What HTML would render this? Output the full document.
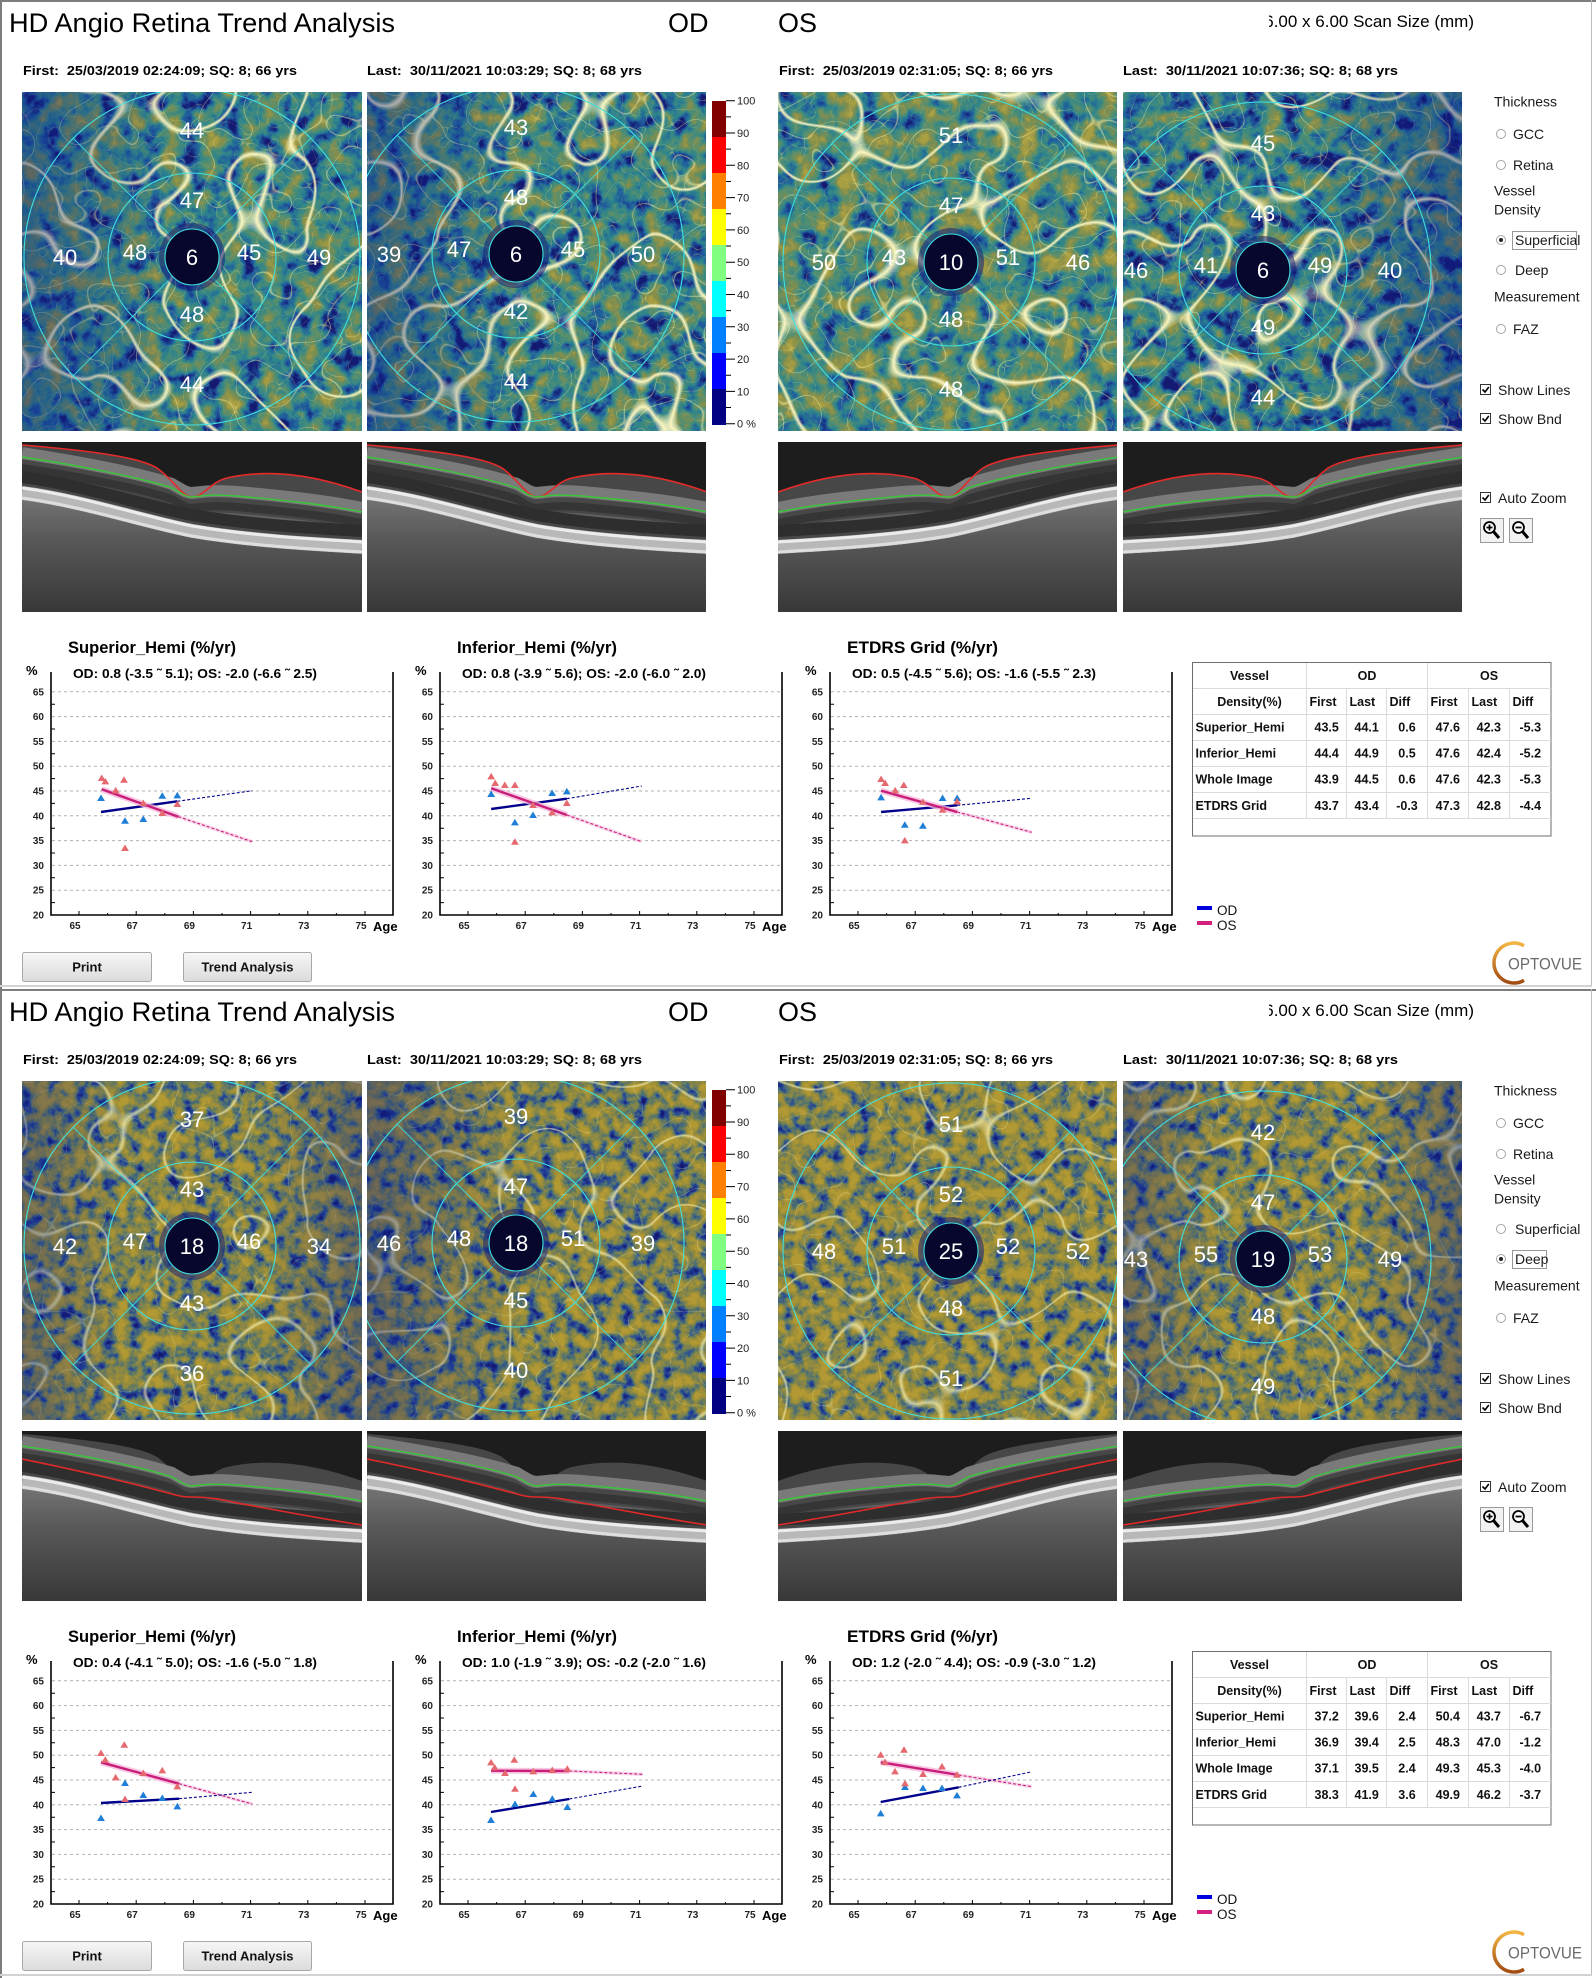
<!DOCTYPE html>
<html><head><meta charset="utf-8"><title>HD Angio Retina Trend Analysis</title>
<style>
html,body{margin:0;padding:0;background:#fff;}
body{width:1596px;height:1978px;position:relative;overflow:hidden;font-family:"Liberation Sans",Arial,sans-serif;}
svg.p{position:absolute;left:0;}
text{font-family:"Liberation Sans",Arial,sans-serif;}
.ods{stroke:#00008b;stroke-width:2.4;fill:none}
.odd{stroke:#00008b;stroke-width:1.1;stroke-dasharray:3 2;fill:none}
.osg{stroke:#f7b6da;stroke-width:6;opacity:.75;fill:none}
.oss{stroke:#c81e7a;stroke-width:2.4;fill:none}
.osd{stroke:#c81e7a;stroke-width:1.1;stroke-dasharray:3 2;fill:none}
.osdg{stroke:#f7c6e2;stroke-width:3.5;opacity:.7;fill:none}
.n text{fill:#fff;font-size:22px;text-anchor:middle}
.rp{font-size:14px;fill:#1a1a1a}
.tv text{font-size:12.5px;font-weight:bold;fill:#111;text-anchor:middle}
.st{font-size:13px;font-weight:bold;fill:#000}
</style></head><body>

<svg class="p" style="top:0" width="1596" height="989" viewBox="0 0 1596 989">
<defs>
<!-- superficial textures -->
<filter id="t1" x="0" y="0" width="1" height="1" color-interpolation-filters="sRGB">
<feTurbulence type="fractalNoise" baseFrequency="0.05" numOctaves="4" seed="4"/>
<feColorMatrix type="matrix" values="0 0 0 1.7 -0.40 0 0 0 1.7 -0.40 0 0 0 1.7 -0.40 0 0 0 0 1"/>
<feComponentTransfer result="c"><feFuncR type="table" tableValues="0.08 0.12 0.18 0.33 0.52 0.66"/><feFuncG type="table" tableValues="0.10 0.35 0.52 0.56 0.56 0.62"/><feFuncB type="table" tableValues="0.45 0.62 0.55 0.44 0.30 0.26"/></feComponentTransfer>
<feTurbulence type="turbulence" baseFrequency="0.055" numOctaves="1" seed="14"/>
<feColorMatrix type="matrix" values="0 0 0 0 0.9 0 0 0 0 0.86 0 0 0 0 0.5 0 0 0 -30 0.5" result="v2"/>
<feTurbulence type="turbulence" baseFrequency="0.026" numOctaves="1" seed="34"/>
<feColorMatrix type="matrix" values="0 0 0 0 0.95 0 0 0 0 0.92 0 0 0 0 0.62 0 0 0 -34 0.6" result="v3"/>
<feTurbulence type="turbulence" baseFrequency="0.014" numOctaves="1" seed="24"/>
<feColorMatrix type="matrix" values="0 0 0 0 0.98 0 0 0 0 0.96 0 0 0 0 0.75 0 0 0 -26 1" result="v1"/>
<feMerge><feMergeNode in="c"/><feMergeNode in="v2"/><feMergeNode in="v3"/><feMergeNode in="v1"/></feMerge>
</filter>
<filter id="t2" x="0" y="0" width="1" height="1" color-interpolation-filters="sRGB">
<feTurbulence type="fractalNoise" baseFrequency="0.05" numOctaves="4" seed="7"/>
<feColorMatrix type="matrix" values="0 0 0 1.7 -0.40 0 0 0 1.7 -0.40 0 0 0 1.7 -0.40 0 0 0 0 1"/>
<feComponentTransfer result="c"><feFuncR type="table" tableValues="0.08 0.12 0.18 0.33 0.52 0.66"/><feFuncG type="table" tableValues="0.10 0.35 0.52 0.56 0.56 0.62"/><feFuncB type="table" tableValues="0.45 0.62 0.55 0.44 0.30 0.26"/></feComponentTransfer>
<feTurbulence type="turbulence" baseFrequency="0.055" numOctaves="1" seed="17"/>
<feColorMatrix type="matrix" values="0 0 0 0 0.9 0 0 0 0 0.86 0 0 0 0 0.5 0 0 0 -30 0.5" result="v2"/>
<feTurbulence type="turbulence" baseFrequency="0.026" numOctaves="1" seed="37"/>
<feColorMatrix type="matrix" values="0 0 0 0 0.95 0 0 0 0 0.92 0 0 0 0 0.62 0 0 0 -34 0.6" result="v3"/>
<feTurbulence type="turbulence" baseFrequency="0.014" numOctaves="1" seed="27"/>
<feColorMatrix type="matrix" values="0 0 0 0 0.98 0 0 0 0 0.96 0 0 0 0 0.75 0 0 0 -26 1" result="v1"/>
<feMerge><feMergeNode in="c"/><feMergeNode in="v2"/><feMergeNode in="v3"/><feMergeNode in="v1"/></feMerge>
</filter>
<filter id="t3" x="0" y="0" width="1" height="1" color-interpolation-filters="sRGB">
<feTurbulence type="fractalNoise" baseFrequency="0.05" numOctaves="4" seed="9"/>
<feColorMatrix type="matrix" values="0 0 0 1.7 -0.30 0 0 0 1.7 -0.30 0 0 0 1.7 -0.30 0 0 0 0 1"/>
<feComponentTransfer result="c"><feFuncR type="table" tableValues="0.08 0.12 0.18 0.33 0.52 0.66"/><feFuncG type="table" tableValues="0.10 0.35 0.52 0.56 0.56 0.62"/><feFuncB type="table" tableValues="0.45 0.62 0.55 0.44 0.30 0.26"/></feComponentTransfer>
<feTurbulence type="turbulence" baseFrequency="0.055" numOctaves="1" seed="19"/>
<feColorMatrix type="matrix" values="0 0 0 0 0.9 0 0 0 0 0.86 0 0 0 0 0.5 0 0 0 -30 0.5" result="v2"/>
<feTurbulence type="turbulence" baseFrequency="0.026" numOctaves="1" seed="39"/>
<feColorMatrix type="matrix" values="0 0 0 0 0.95 0 0 0 0 0.92 0 0 0 0 0.62 0 0 0 -34 0.6" result="v3"/>
<feTurbulence type="turbulence" baseFrequency="0.014" numOctaves="1" seed="29"/>
<feColorMatrix type="matrix" values="0 0 0 0 0.98 0 0 0 0 0.96 0 0 0 0 0.75 0 0 0 -26 1" result="v1"/>
<feMerge><feMergeNode in="c"/><feMergeNode in="v2"/><feMergeNode in="v3"/><feMergeNode in="v1"/></feMerge>
</filter>
<filter id="t4" x="0" y="0" width="1" height="1" color-interpolation-filters="sRGB">
<feTurbulence type="fractalNoise" baseFrequency="0.05" numOctaves="4" seed="12"/>
<feColorMatrix type="matrix" values="0 0 0 1.7 -0.43 0 0 0 1.7 -0.43 0 0 0 1.7 -0.43 0 0 0 0 1"/>
<feComponentTransfer result="c"><feFuncR type="table" tableValues="0.08 0.12 0.18 0.33 0.52 0.66"/><feFuncG type="table" tableValues="0.10 0.35 0.52 0.56 0.56 0.62"/><feFuncB type="table" tableValues="0.45 0.62 0.55 0.44 0.30 0.26"/></feComponentTransfer>
<feTurbulence type="turbulence" baseFrequency="0.055" numOctaves="1" seed="21"/>
<feColorMatrix type="matrix" values="0 0 0 0 0.9 0 0 0 0 0.86 0 0 0 0 0.5 0 0 0 -30 0.5" result="v2"/>
<feTurbulence type="turbulence" baseFrequency="0.026" numOctaves="1" seed="41"/>
<feColorMatrix type="matrix" values="0 0 0 0 0.95 0 0 0 0 0.92 0 0 0 0 0.62 0 0 0 -34 0.6" result="v3"/>
<feTurbulence type="turbulence" baseFrequency="0.014" numOctaves="1" seed="31"/>
<feColorMatrix type="matrix" values="0 0 0 0 0.98 0 0 0 0 0.96 0 0 0 0 0.75 0 0 0 -26 1" result="v1"/>
<feMerge><feMergeNode in="c"/><feMergeNode in="v2"/><feMergeNode in="v3"/><feMergeNode in="v1"/></feMerge>
</filter>
<!-- deep textures -->
<filter id="d1" x="0" y="0" width="1" height="1" color-interpolation-filters="sRGB">
<feTurbulence type="fractalNoise" baseFrequency="0.075" numOctaves="4" seed="33"/>
<feColorMatrix type="matrix" values="0 0 0 1.9 -0.35 0 0 0 1.9 -0.35 0 0 0 1.9 -0.35 0 0 0 0 1"/>
<feComponentTransfer result="c"><feFuncR type="table" tableValues="0.08 0.14 0.30 0.50 0.62 0.70"/><feFuncG type="table" tableValues="0.10 0.26 0.44 0.52 0.56 0.60"/><feFuncB type="table" tableValues="0.45 0.60 0.45 0.30 0.22 0.20"/></feComponentTransfer>
<feTurbulence type="turbulence" baseFrequency="0.026" numOctaves="1" seed="43"/>
<feColorMatrix type="matrix" values="0 0 0 0 0.93 0 0 0 0 0.9 0 0 0 0 0.6 0 0 0 -34 0.4" result="v3"/>
<feTurbulence type="turbulence" baseFrequency="0.014" numOctaves="1" seed="53"/>
<feColorMatrix type="matrix" values="0 0 0 0 0.97 0 0 0 0 0.95 0 0 0 0 0.72 0 0 0 -26 0.7" result="v1"/>
<feMerge><feMergeNode in="c"/><feMergeNode in="v3"/><feMergeNode in="v1"/></feMerge>
</filter>
<filter id="d2" x="0" y="0" width="1" height="1" color-interpolation-filters="sRGB">
<feTurbulence type="fractalNoise" baseFrequency="0.075" numOctaves="4" seed="35"/>
<feColorMatrix type="matrix" values="0 0 0 1.9 -0.35 0 0 0 1.9 -0.35 0 0 0 1.9 -0.35 0 0 0 0 1"/>
<feComponentTransfer result="c"><feFuncR type="table" tableValues="0.08 0.14 0.30 0.50 0.62 0.70"/><feFuncG type="table" tableValues="0.10 0.26 0.44 0.52 0.56 0.60"/><feFuncB type="table" tableValues="0.45 0.60 0.45 0.30 0.22 0.20"/></feComponentTransfer>
<feTurbulence type="turbulence" baseFrequency="0.026" numOctaves="1" seed="45"/>
<feColorMatrix type="matrix" values="0 0 0 0 0.93 0 0 0 0 0.9 0 0 0 0 0.6 0 0 0 -34 0.4" result="v3"/>
<feTurbulence type="turbulence" baseFrequency="0.014" numOctaves="1" seed="55"/>
<feColorMatrix type="matrix" values="0 0 0 0 0.97 0 0 0 0 0.95 0 0 0 0 0.72 0 0 0 -26 0.7" result="v1"/>
<feMerge><feMergeNode in="c"/><feMergeNode in="v3"/><feMergeNode in="v1"/></feMerge>
</filter>
<filter id="d3" x="0" y="0" width="1" height="1" color-interpolation-filters="sRGB">
<feTurbulence type="fractalNoise" baseFrequency="0.075" numOctaves="4" seed="37"/>
<feColorMatrix type="matrix" values="0 0 0 1.9 -0.30 0 0 0 1.9 -0.30 0 0 0 1.9 -0.30 0 0 0 0 1"/>
<feComponentTransfer result="c"><feFuncR type="table" tableValues="0.08 0.14 0.30 0.50 0.62 0.70"/><feFuncG type="table" tableValues="0.10 0.26 0.44 0.52 0.56 0.60"/><feFuncB type="table" tableValues="0.45 0.60 0.45 0.30 0.22 0.20"/></feComponentTransfer>
<feTurbulence type="turbulence" baseFrequency="0.026" numOctaves="1" seed="47"/>
<feColorMatrix type="matrix" values="0 0 0 0 0.93 0 0 0 0 0.9 0 0 0 0 0.6 0 0 0 -34 0.4" result="v3"/>
<feTurbulence type="turbulence" baseFrequency="0.014" numOctaves="1" seed="57"/>
<feColorMatrix type="matrix" values="0 0 0 0 0.97 0 0 0 0 0.95 0 0 0 0 0.72 0 0 0 -26 0.7" result="v1"/>
<feMerge><feMergeNode in="c"/><feMergeNode in="v3"/><feMergeNode in="v1"/></feMerge>
</filter>
<filter id="d4" x="0" y="0" width="1" height="1" color-interpolation-filters="sRGB">
<feTurbulence type="fractalNoise" baseFrequency="0.075" numOctaves="4" seed="39"/>
<feColorMatrix type="matrix" values="0 0 0 1.9 -0.33 0 0 0 1.9 -0.33 0 0 0 1.9 -0.33 0 0 0 0 1"/>
<feComponentTransfer result="c"><feFuncR type="table" tableValues="0.08 0.14 0.30 0.50 0.62 0.70"/><feFuncG type="table" tableValues="0.10 0.26 0.44 0.52 0.56 0.60"/><feFuncB type="table" tableValues="0.45 0.60 0.45 0.30 0.22 0.20"/></feComponentTransfer>
<feTurbulence type="turbulence" baseFrequency="0.026" numOctaves="1" seed="49"/>
<feColorMatrix type="matrix" values="0 0 0 0 0.93 0 0 0 0 0.9 0 0 0 0 0.6 0 0 0 -34 0.4" result="v3"/>
<feTurbulence type="turbulence" baseFrequency="0.014" numOctaves="1" seed="59"/>
<feColorMatrix type="matrix" values="0 0 0 0 0.97 0 0 0 0 0.95 0 0 0 0 0.72 0 0 0 -26 0.7" result="v1"/>
<feMerge><feMergeNode in="c"/><feMergeNode in="v3"/><feMergeNode in="v1"/></feMerge>
</filter>

<linearGradient id="gL" x1="0" y1="0" x2="1" y2="0"><stop offset="0" stop-color="#0c1e86" stop-opacity=".4"/><stop offset=".45" stop-color="#0c1e86" stop-opacity="0"/></linearGradient>
<linearGradient id="gR" x1="0" y1="0" x2="1" y2="0"><stop offset=".55" stop-color="#0c1e86" stop-opacity="0"/><stop offset="1" stop-color="#0c1e86" stop-opacity=".4"/></linearGradient>
<linearGradient id="gE" x1="0" y1="0" x2="1" y2="0"><stop offset="0" stop-color="#0c1e86" stop-opacity=".35"/><stop offset=".3" stop-color="#0c1e86" stop-opacity="0"/><stop offset=".7" stop-color="#0c1e86" stop-opacity="0"/><stop offset="1" stop-color="#0c1e86" stop-opacity=".35"/></linearGradient>
<linearGradient id="gCh" x1="0" y1="0" x2="0" y2="1"><stop offset="0" stop-color="#727272"/><stop offset=".35" stop-color="#585858"/><stop offset="1" stop-color="#383838"/></linearGradient>
<linearGradient id="gBtn" x1="0" y1="0" x2="0" y2="1"><stop offset="0" stop-color="#f7f7f7"/><stop offset="1" stop-color="#dbdbdb"/></linearGradient>
<linearGradient id="gLogo" x1="0" y1="0" x2="0" y2="1"><stop offset="0" stop-color="#f2b443"/><stop offset="1" stop-color="#a24c12"/></linearGradient>

<path id="pILM" d="M0,3C60,8 115,14 135,26C152,38 160,55 170,55C182,55 188,40 205,36C240,28 285,30 340,50"/>
<path id="pIPL" d="M0,15C60,24 120,36 150,46C160,52 165,55 170,55C180,54 190,52 215,54C260,58 300,62 340,70"/>
<path id="pOPL" d="M0,28C60,40 120,55 150,63C160,66 165,66 170,66C185,66 200,68 215,72C260,80 300,88 340,94"/>
<path id="pRPE" d="M0,44C60,52 120,72 170,82C230,92 290,95 340,98"/>

<g id="bs">
<rect width="340" height="170" fill="#1d1d1d"/>
<path d="M0,3C60,8 115,14 135,26C152,38 160,55 170,55C182,55 188,40 205,36C240,28 285,30 340,50L340,170L0,170Z" fill="#474747"/>
<use href="#pIPL" y="-4" fill="none" stroke="#7a7a7a" stroke-width="12"/>
<use href="#pIPL" y="11" fill="none" stroke="#353535" stroke-width="8"/>
<use href="#pIPL" y="20" fill="none" stroke="#606060" stroke-width="5"/>
<use href="#pRPE" y="-9" fill="none" stroke="#2e2e2e" stroke-width="12"/>
<use href="#pRPE" y="7" fill="none" stroke="#b8b8b8" stroke-width="14"/>
<use href="#pRPE" y="2" fill="none" stroke="#ececec" stroke-width="3"/>
<use href="#pRPE" y="12" fill="none" stroke="#dedede" stroke-width="3"/>
<path d="M0,58C60,66 120,86 170,96C230,106 290,109 340,112L340,170L0,170Z" fill="url(#gCh)"/>
</g>
<g id="lt"><use href="#pILM" fill="none" stroke="#e52a2a" stroke-width="1.6"/><use href="#pIPL" fill="none" stroke="#38c838" stroke-width="1.4"/></g>
<g id="lb"><use href="#pIPL" fill="none" stroke="#38c838" stroke-width="1.4"/><use href="#pOPL" fill="none" stroke="#e02a2a" stroke-width="1.6"/></g>

<g id="et">
<circle r="168" fill="none" stroke="#3fe0e0" stroke-width="1.1"/>
<circle r="84" fill="none" stroke="#3fe0e0" stroke-width="1.1"/>
<path d="M20,-20L119,-119M-20,-20L-119,-119M20,20L119,119M-20,20L-119,119" stroke="#3fe0e0" stroke-width="1" opacity=".85"/>
<ellipse rx="33" ry="34" fill="#14207a" opacity=".55"/>
<ellipse rx="27" ry="28" fill="#07072e" stroke="#3fe0e0" stroke-width="1.1"/>
</g>

<path id="tp" d="M0,-3.8L3.9,2.7L-3.9,2.7Z" fill="#e46a70"/>
<path id="tb" d="M0,-3.8L3.9,2.7L-3.9,2.7Z" fill="#1f7fd6"/>

<g id="cf">
<path d="M52,691.8H392M52,716.6H392M52,741.4H392M52,766.2H392M52,791H392M52,815.8H392M52,840.6H392M52,865.4H392M52,890.2H392" stroke="#b0b0b0" stroke-width="1" stroke-dasharray="3 3" fill="none"/>
<path d="M51,704.2h4M51,729h4M51,753.8h4M51,778.6h4M51,803.4h4M51,828.2h4M51,853h4M51,877.8h4M51,902.6h4" stroke="#000" stroke-width="1"/>
<path d="M79,915v-4M136.2,915v-4M193.4,915v-4M250.6,915v-4M307.8,915v-4M365,915v-4M107.6,915v-2M164.8,915v-2M222,915v-2M279.2,915v-2M336.4,915v-2" stroke="#000" stroke-width="1"/>
<path d="M51,672V915H393V672" stroke="#000" stroke-width="1.6" fill="none"/>
<g font-size="10" font-weight="bold" fill="#222" text-anchor="end">
<text x="44" y="695.3">65</text><text x="44" y="720.1">60</text><text x="44" y="744.9">55</text><text x="44" y="769.7">50</text><text x="44" y="794.5">45</text><text x="44" y="819.3">40</text><text x="44" y="844.1">35</text><text x="44" y="868.9">30</text><text x="44" y="893.7">25</text><text x="44" y="918.5">20</text>
</g>
<g font-size="10" font-weight="bold" fill="#222" text-anchor="middle">
<text x="75" y="929">65</text><text x="132.2" y="929">67</text><text x="189.4" y="929">69</text><text x="246.6" y="929">71</text><text x="303.8" y="929">73</text><text x="361" y="929">75</text>
</g>
<text x="373" y="931" font-size="13" font-weight="bold">Age</text>
<text x="26" y="675" font-size="13" font-weight="bold">%</text>
</g>

<g id="common">
<rect x="0" y="0" width="1596" height="2" fill="#7d7d7d"/>
<rect x="0" y="0" width="2" height="989" fill="#7d7d7d"/>
<rect x="1591" y="0" width="1" height="987" fill="#bcbcbc"/>
<rect x="0" y="985" width="1592" height="2" fill="#d2d2d2"/>
<text x="9" y="32" font-size="27" fill="#000" textLength="386" lengthAdjust="spacingAndGlyphs">HD Angio Retina Trend Analysis</text>
<text x="668" y="32" font-size="27" fill="#000">OD</text>
<text x="778" y="32" font-size="27" fill="#000">OS</text>
<svg x="1269" y="0" width="220" height="40"><text x="205" y="27" font-size="17" text-anchor="end" fill="#000">6.00 x 6.00 Scan Size (mm)</text></svg>
<g font-size="13" font-weight="bold" fill="#000">
<text x="23" y="75" textLength="274" lengthAdjust="spacingAndGlyphs">First:&#160; 25/03/2019 02:24:09; SQ: 8; 66 yrs</text>
<text x="367" y="75" textLength="275" lengthAdjust="spacingAndGlyphs">Last:&#160; 30/11/2021 10:03:29; SQ: 8; 68 yrs</text>
<text x="779" y="75" textLength="274" lengthAdjust="spacingAndGlyphs">First:&#160; 25/03/2019 02:31:05; SQ: 8; 66 yrs</text>
<text x="1123" y="75" textLength="275" lengthAdjust="spacingAndGlyphs">Last:&#160; 30/11/2021 10:07:36; SQ: 8; 68 yrs</text>
</g>
<!-- colorbar -->
<rect x="712" y="101" width="14" height="36" fill="#800000"/>
<rect x="712" y="137" width="14" height="36" fill="#ff0000"/>
<rect x="712" y="173" width="14" height="36" fill="#ff8000"/>
<rect x="712" y="209" width="14" height="36" fill="#ffff00"/>
<rect x="712" y="245" width="14" height="36" fill="#80ff80"/>
<rect x="712" y="281" width="14" height="36" fill="#00ffff"/>
<rect x="712" y="317" width="14" height="36" fill="#0080ff"/>
<rect x="712" y="353" width="14" height="36" fill="#0000ff"/>
<rect x="712" y="389" width="14" height="36" fill="#000080"/>
<path d="M726,100.7h9M726,133h9M726,165.3h9M726,197.6h9M726,229.9h9M726,262.2h9M726,294.5h9M726,326.8h9M726,359.1h9M726,391.4h9M726,423.7h9M726,116.85h5M726,149.15h5M726,181.45h5M726,213.75h5M726,246.05h5M726,278.35h5M726,310.65h5M726,342.95h5M726,375.25h5M726,407.55h5" stroke="#000" stroke-width="1"/>
<g font-size="11" fill="#222">
<text x="737" y="104.7">100</text><text x="737" y="137">90</text><text x="737" y="169.3">80</text><text x="737" y="201.6">70</text><text x="737" y="233.9">60</text><text x="737" y="266.2">50</text><text x="737" y="298.5">40</text><text x="737" y="330.8">30</text><text x="737" y="363.1">20</text><text x="737" y="395.4">10</text><text x="737" y="427.7">0 %</text>
</g>
<!-- B-scan bases -->
<svg x="22" y="442" width="340" height="170"><use href="#bs"/></svg>
<svg x="367" y="442" width="339" height="170"><use href="#bs"/></svg>
<svg x="778" y="442" width="339" height="170"><use href="#bs" transform="matrix(-1 0 0 1 340 0)"/></svg>
<svg x="1123" y="442" width="339" height="170"><use href="#bs" transform="matrix(-1 0 0 1 340 0)"/></svg>
<!-- chart frames -->
<use href="#cf"/>
<use href="#cf" x="389"/>
<use href="#cf" x="779"/>
<g font-size="16.5" font-weight="bold" fill="#000">
<text x="68" y="653" textLength="168" lengthAdjust="spacingAndGlyphs">Superior_Hemi (%/yr)</text>
<text x="457" y="653" textLength="160" lengthAdjust="spacingAndGlyphs">Inferior_Hemi (%/yr)</text>
<text x="847" y="653" textLength="151" lengthAdjust="spacingAndGlyphs">ETDRS Grid (%/yr)</text>
</g>
<!-- right panel -->
<g class="rp">
<text x="1494" y="106.5">Thickness</text>
<text x="1513" y="139">GCC</text>
<text x="1513" y="170">Retina</text>
<text x="1494" y="195.5">Vessel</text>
<text x="1494" y="214.5">Density</text>
<text x="1515" y="245">Superficial</text>
<text x="1515" y="275">Deep</text>
<text x="1494" y="301.5">Measurement</text>
<text x="1513" y="334">FAZ</text>
<text x="1498" y="395">Show Lines</text>
<text x="1498" y="424">Show Bnd</text>
<text x="1498" y="503">Auto Zoom</text>
</g>
<g fill="#fff" stroke="#a5a5a5" stroke-width="1">
<circle cx="1501" cy="134" r="4.5"/><circle cx="1501" cy="165" r="4.5"/><circle cx="1501" cy="240" r="4.5"/><circle cx="1501" cy="270" r="4.5"/><circle cx="1501" cy="329" r="4.5"/>
</g>
<g fill="#fff" stroke="#333" stroke-width="1">
<rect x="1480.5" y="384.5" width="10" height="10"/><rect x="1480.5" y="413.5" width="10" height="10"/><rect x="1480.5" y="492.5" width="10" height="10"/>
</g>
<path d="M1482.5,389.5l2.5,2.5l3.8,-5M1482.5,418.5l2.5,2.5l3.8,-5M1482.5,497.5l2.5,2.5l3.8,-5" fill="none" stroke="#000" stroke-width="1.6"/>
<rect x="1480.5" y="518.5" width="23" height="24" fill="#f2f2f2" stroke="#9a9a9a"/>
<rect x="1509.5" y="518.5" width="23" height="24" fill="#f2f2f2" stroke="#9a9a9a"/>
<circle cx="1489.5" cy="527.5" r="5.5" fill="#fff" stroke="#000" stroke-width="1.8"/>
<path d="M1486.5,527.5h6M1489.5,524.5v6" stroke="#000" stroke-width="1.8"/>
<path d="M1493.5,531.5L1499,538" stroke="#000" stroke-width="3"/>
<circle cx="1518.5" cy="527.5" r="5.5" fill="#fff" stroke="#000" stroke-width="1.8"/>
<path d="M1515.5,527.5h6" stroke="#000" stroke-width="1.8"/>
<path d="M1522.5,531.5L1528,538" stroke="#000" stroke-width="3"/>
<!-- table skeleton -->
<rect x="1192.5" y="662.5" width="358.5" height="173.5" fill="#fff" stroke="#6e6e6e"/>
<path d="M1193,688.5H1551M1193,714.5H1551M1193,740.5H1551M1193,766.5H1551M1193,792.5H1551M1193,818.5H1551M1306.5,663V818.5M1427.5,663V818.5M1346.5,688.5V818.5M1386.5,688.5V818.5M1468.5,688.5V818.5M1509.5,688.5V818.5" stroke="#dadada" stroke-width="1"/>
<g font-size="12.5" font-weight="bold" fill="#111">
<text x="1249.5" y="679.8" text-anchor="middle">Vessel</text>
<text x="1367" y="679.8" text-anchor="middle">OD</text>
<text x="1489" y="679.8" text-anchor="middle">OS</text>
<text x="1249.5" y="705.8" text-anchor="middle">Density(%)</text>
<text x="1309.5" y="705.8">First</text><text x="1349.5" y="705.8">Last</text><text x="1389.5" y="705.8">Diff</text>
<text x="1430.5" y="705.8">First</text><text x="1471.5" y="705.8">Last</text><text x="1512.5" y="705.8">Diff</text>
<text x="1195.5" y="731.7">Superior_Hemi</text>
<text x="1195.5" y="757.7">Inferior_Hemi</text>
<text x="1195.5" y="783.7">Whole Image</text>
<text x="1195.5" y="809.8">ETDRS Grid</text>
</g>
<!-- legend -->
<rect x="1197" y="906" width="15" height="4" fill="#0000dd"/>
<text x="1217" y="915" font-size="13.5" fill="#111">OD</text>
<rect x="1197" y="921" width="15" height="4" fill="#d4207e"/>
<text x="1217" y="930" font-size="13.5" fill="#111">OS</text>
<!-- buttons -->
<rect x="22.5" y="952.5" width="129" height="29" rx="2" fill="url(#gBtn)" stroke="#a8a8a8"/>
<rect x="183.5" y="952.5" width="128" height="29" rx="2" fill="url(#gBtn)" stroke="#a8a8a8"/>
<text x="87" y="971.5" font-size="13" font-weight="bold" text-anchor="middle" fill="#111">Print</text>
<text x="247.5" y="971.5" font-size="13" font-weight="bold" text-anchor="middle" fill="#111">Trend Analysis</text>
<!-- logo -->
<path d="M1524,945.7A20,20 0 1,0 1524,980.3" fill="none" stroke="url(#gLogo)" stroke-width="3.5"/>
<text x="1508" y="969.5" font-size="17" fill="#6a6a6a" textLength="74" lengthAdjust="spacingAndGlyphs">OPTOVUE</text>
</g>
</defs>

<use href="#common"/>

<!-- angio images top -->
<svg x="22" y="92" width="340" height="339">
<rect width="340" height="339" filter="url(#t1)"/>
<rect width="340" height="339" fill="url(#gL)"/>
<use href="#et" x="170" y="165"/>
<g class="n"><text x="170" y="46">44</text><text x="170" y="116">47</text><text x="43" y="173">40</text><text x="113" y="168">48</text><text x="170" y="173">6</text><text x="227" y="168">45</text><text x="297" y="173">49</text><text x="170" y="230">48</text><text x="170" y="300">44</text></g>
</svg>
<svg x="367" y="92" width="339" height="339">
<rect width="339" height="339" filter="url(#t2)"/>
<rect width="339" height="339" fill="url(#gL)"/>
<use href="#et" x="149" y="162"/>
<g class="n"><text x="149" y="43">43</text><text x="149" y="113">48</text><text x="22" y="170">39</text><text x="92" y="165">47</text><text x="149" y="170">6</text><text x="206" y="165">45</text><text x="276" y="170">50</text><text x="149" y="227">42</text><text x="149" y="297">44</text></g>
</svg>
<svg x="778" y="92" width="339" height="339">
<rect width="339" height="339" filter="url(#t3)"/>
<use href="#et" x="173" y="170"/>
<g class="n"><text x="173" y="51">51</text><text x="173" y="121">47</text><text x="46" y="178">50</text><text x="116" y="173">43</text><text x="173" y="178">10</text><text x="230" y="173">51</text><text x="300" y="178">46</text><text x="173" y="235">48</text><text x="173" y="305">48</text></g>
</svg>
<svg x="1123" y="92" width="339" height="339">
<rect width="339" height="339" filter="url(#t4)"/>
<rect width="339" height="339" fill="url(#gR)"/>
<use href="#et" x="140" y="178"/>
<g class="n"><text x="140" y="59">45</text><text x="140" y="129">43</text><text x="13" y="186">46</text><text x="83" y="181">41</text><text x="140" y="186">6</text><text x="197" y="181">49</text><text x="267" y="186">40</text><text x="140" y="243">49</text><text x="140" y="313">44</text></g>
</svg>
<!-- b-scan lines -->
<svg x="22" y="442" width="340" height="170"><use href="#lt"/></svg>
<svg x="367" y="442" width="339" height="170"><use href="#lt"/></svg>
<svg x="778" y="442" width="339" height="170"><use href="#lt" transform="matrix(-1 0 0 1 340 0)"/></svg>
<svg x="1123" y="442" width="339" height="170"><use href="#lt" transform="matrix(-1 0 0 1 340 0)"/></svg>

<!-- radio selection -->
<circle cx="1501" cy="240" r="2" fill="#222"/>
<rect x="1512.5" y="231.5" width="64" height="18" fill="none" stroke="#333" stroke-dasharray="1 1"/>

<!-- subtitles -->
<text class="st" x="73" y="678" textLength="244" lengthAdjust="spacingAndGlyphs">OD: 0.8 (-3.5 ˜ 5.1); OS: -2.0 (-6.6 ˜ 2.5)</text>
<text class="st" x="462" y="678" textLength="244" lengthAdjust="spacingAndGlyphs">OD: 0.8 (-3.9 ˜ 5.6); OS: -2.0 (-6.0 ˜ 2.0)</text>
<text class="st" x="852" y="678" textLength="244" lengthAdjust="spacingAndGlyphs">OD: 0.5 (-4.5 ˜ 5.6); OS: -1.6 (-5.5 ˜ 2.3)</text>

<!-- series chart 1 -->
<g>
<line class="osdg" x1="178.3" y1="816.7" x2="252.3" y2="841.7"/><line class="osd" x1="178.3" y1="816.7" x2="252.3" y2="841.7"/>
<line class="odd" x1="177.3" y1="801.3" x2="252.3" y2="790.7"/>
<line class="ods" x1="101" y1="812" x2="177.3" y2="801.3"/>
<line class="osg" x1="101.7" y1="789.3" x2="178.3" y2="816.7"/><line class="oss" x1="101.7" y1="789.3" x2="178.3" y2="816.7"/>
<use href="#tb" x="101" y="798.3"/><use href="#tb" x="125" y="821"/><use href="#tb" x="143.3" y="819.3"/><use href="#tb" x="162.3" y="796"/><use href="#tb" x="177.3" y="795.7"/>
<use href="#tp" x="101.7" y="778.3"/><use href="#tp" x="105.3" y="781.7"/><use href="#tp" x="115.7" y="790.7"/><use href="#tp" x="124" y="780"/><use href="#tp" x="125" y="848.3"/><use href="#tp" x="143.3" y="803.3"/><use href="#tp" x="162.3" y="813.3"/><use href="#tp" x="177.3" y="804.3"/>
</g>
<g transform="translate(389,0)">
<line class="osdg" x1="177.8" y1="815" x2="252.8" y2="841.7"/><line class="osd" x1="177.8" y1="815" x2="252.8" y2="841.7"/>
<line class="odd" x1="177.8" y1="798.7" x2="252.8" y2="786"/>
<line class="ods" x1="102.2" y1="809" x2="177.8" y2="798.7"/>
<line class="osg" x1="102.2" y1="788.3" x2="177.8" y2="815"/><line class="oss" x1="102.2" y1="788.3" x2="177.8" y2="815"/>
<use href="#tb" x="102.2" y="794.3"/><use href="#tb" x="125.9" y="822.7"/><use href="#tb" x="144" y="815.3"/><use href="#tb" x="163.1" y="793.3"/><use href="#tb" x="177.8" y="791.7"/>
<use href="#tp" x="102.2" y="776.7"/><use href="#tp" x="106.2" y="783.3"/><use href="#tp" x="115.8" y="785.3"/><use href="#tp" x="125.9" y="785.3"/><use href="#tp" x="125.9" y="842"/><use href="#tp" x="144" y="805.3"/><use href="#tp" x="163.1" y="812.7"/><use href="#tp" x="177.8" y="803.3"/>
</g>
<g transform="translate(779,0)">
<line class="osdg" x1="178.2" y1="812" x2="252.7" y2="832.3"/><line class="osd" x1="178.2" y1="812" x2="252.7" y2="832.3"/>
<line class="odd" x1="178.2" y1="805.3" x2="252.7" y2="798.3"/>
<line class="ods" x1="102.1" y1="812" x2="178.2" y2="805.3"/>
<line class="osg" x1="102.1" y1="790.7" x2="178.2" y2="812"/><line class="oss" x1="102.1" y1="790.7" x2="178.2" y2="812"/>
<use href="#tb" x="102.1" y="797.7"/><use href="#tb" x="125.8" y="825"/><use href="#tb" x="143.9" y="826"/><use href="#tb" x="163.6" y="798.3"/><use href="#tb" x="178.2" y="798.3"/>
<use href="#tp" x="102.1" y="779.3"/><use href="#tp" x="106.1" y="783.3"/><use href="#tp" x="116.2" y="790.7"/><use href="#tp" x="124.8" y="785.3"/><use href="#tp" x="125.8" y="840.7"/><use href="#tp" x="143.9" y="802"/><use href="#tp" x="163.6" y="810"/><use href="#tp" x="178.2" y="801.7"/>
</g>

<!-- table values -->
<g class="tv">
<text x="1326.7" y="731.7">43.5</text><text x="1366.7" y="731.7">44.1</text><text x="1407" y="731.7">0.6</text><text x="1447.8" y="731.7">47.6</text><text x="1488.8" y="731.7">42.3</text><text x="1530.3" y="731.7">-5.3</text>
<text x="1326.7" y="757.7">44.4</text><text x="1366.7" y="757.7">44.9</text><text x="1407" y="757.7">0.5</text><text x="1447.8" y="757.7">47.6</text><text x="1488.8" y="757.7">42.4</text><text x="1530.3" y="757.7">-5.2</text>
<text x="1326.7" y="783.7">43.9</text><text x="1366.7" y="783.7">44.5</text><text x="1407" y="783.7">0.6</text><text x="1447.8" y="783.7">47.6</text><text x="1488.8" y="783.7">42.3</text><text x="1530.3" y="783.7">-5.3</text>
<text x="1326.7" y="809.8">43.7</text><text x="1366.7" y="809.8">43.4</text><text x="1407" y="809.8">-0.3</text><text x="1447.8" y="809.8">47.3</text><text x="1488.8" y="809.8">42.8</text><text x="1530.3" y="809.8">-4.4</text>
</g>
</svg>

<svg class="p" style="top:989px" width="1596" height="989" viewBox="0 0 1596 989">
<use href="#common"/>

<svg x="22" y="92" width="340" height="339">
<rect width="340" height="339" filter="url(#d1)"/>
<rect width="340" height="339" fill="url(#gE)"/>
<use href="#et" x="170" y="165"/>
<g class="n"><text x="170" y="46">37</text><text x="170" y="116">43</text><text x="43" y="173">42</text><text x="113" y="168">47</text><text x="170" y="173">18</text><text x="227" y="168">46</text><text x="297" y="173">34</text><text x="170" y="230">43</text><text x="170" y="300">36</text></g>
</svg>
<svg x="367" y="92" width="339" height="339">
<rect width="339" height="339" filter="url(#d2)"/>
<rect width="339" height="339" fill="url(#gL)"/>
<use href="#et" x="149" y="162"/>
<g class="n"><text x="149" y="43">39</text><text x="149" y="113">47</text><text x="22" y="170">46</text><text x="92" y="165">48</text><text x="149" y="170">18</text><text x="206" y="165">51</text><text x="276" y="170">39</text><text x="149" y="227">45</text><text x="149" y="297">40</text></g>
</svg>
<svg x="778" y="92" width="339" height="339">
<rect width="339" height="339" filter="url(#d3)"/>
<use href="#et" x="173" y="170"/>
<g class="n"><text x="173" y="51">51</text><text x="173" y="121">52</text><text x="46" y="178">48</text><text x="116" y="173">51</text><text x="173" y="178">25</text><text x="230" y="173">52</text><text x="300" y="178">52</text><text x="173" y="235">48</text><text x="173" y="305">51</text></g>
</svg>
<svg x="1123" y="92" width="339" height="339">
<rect width="339" height="339" filter="url(#d4)"/>
<rect width="339" height="339" fill="url(#gE)"/>
<use href="#et" x="140" y="178"/>
<g class="n"><text x="140" y="59">42</text><text x="140" y="129">47</text><text x="13" y="186">43</text><text x="83" y="181">55</text><text x="140" y="186">19</text><text x="197" y="181">53</text><text x="267" y="186">49</text><text x="140" y="243">48</text><text x="140" y="313">49</text></g>
</svg>
<svg x="22" y="442" width="340" height="170"><use href="#lb"/></svg>
<svg x="367" y="442" width="339" height="170"><use href="#lb"/></svg>
<svg x="778" y="442" width="339" height="170"><use href="#lb" transform="matrix(-1 0 0 1 340 0)"/></svg>
<svg x="1123" y="442" width="339" height="170"><use href="#lb" transform="matrix(-1 0 0 1 340 0)"/></svg>

<circle cx="1501" cy="270" r="2" fill="#222"/>
<rect x="1512.5" y="261.5" width="34" height="18" fill="none" stroke="#333" stroke-dasharray="1 1"/>

<text class="st" x="73" y="678" textLength="244" lengthAdjust="spacingAndGlyphs">OD: 0.4 (-4.1 ˜ 5.0); OS: -1.6 (-5.0 ˜ 1.8)</text>
<text class="st" x="462" y="678" textLength="244" lengthAdjust="spacingAndGlyphs">OD: 1.0 (-1.9 ˜ 3.9); OS: -0.2 (-2.0 ˜ 1.6)</text>
<text class="st" x="852" y="678" textLength="244" lengthAdjust="spacingAndGlyphs">OD: 1.2 (-2.0 ˜ 4.4); OS: -0.9 (-3.0 ˜ 1.2)</text>

<g>
<line class="osdg" x1="179" y1="794.7" x2="252.3" y2="815"/><line class="osd" x1="179" y1="794.7" x2="252.3" y2="815"/>
<line class="odd" x1="179" y1="809.7" x2="252.3" y2="803.3"/>
<line class="ods" x1="101" y1="814" x2="179" y2="809.7"/>
<line class="osg" x1="101" y1="773.3" x2="179" y2="794.7"/><line class="oss" x1="101" y1="773.3" x2="179" y2="794.7"/>
<use href="#tb" x="101" y="829.3"/><use href="#tb" x="125" y="794.3"/><use href="#tb" x="143.3" y="806.3"/><use href="#tb" x="162.3" y="809.3"/><use href="#tb" x="177.3" y="817.7"/>
<use href="#tp" x="101" y="764.3"/><use href="#tp" x="105.3" y="771"/><use href="#tp" x="115.7" y="788.7"/><use href="#tp" x="124.3" y="756"/><use href="#tp" x="125" y="810.3"/><use href="#tp" x="143.3" y="784.3"/><use href="#tp" x="162.3" y="781.7"/><use href="#tp" x="177.3" y="797.7"/>
</g>
<g transform="translate(389,0)">
<line class="osdg" x1="180.3" y1="782" x2="253.7" y2="785.3"/><line class="osd" x1="180.3" y1="782" x2="253.7" y2="785.3"/>
<line class="odd" x1="180.3" y1="810" x2="253.7" y2="797"/>
<line class="ods" x1="102" y1="823" x2="180.3" y2="810"/>
<line class="osg" x1="102" y1="781.7" x2="180.3" y2="782"/><line class="oss" x1="102" y1="781.7" x2="180.3" y2="782"/>
<use href="#tb" x="102" y="831.3"/><use href="#tb" x="126" y="815.3"/><use href="#tb" x="144.3" y="805.3"/><use href="#tb" x="163.3" y="810"/><use href="#tb" x="178.3" y="818.3"/>
<use href="#tp" x="102" y="773.7"/><use href="#tp" x="105.7" y="778.7"/><use href="#tp" x="116" y="784.3"/><use href="#tp" x="125.3" y="771"/><use href="#tp" x="126" y="800"/><use href="#tp" x="144.3" y="782.7"/><use href="#tp" x="163.3" y="781.3"/><use href="#tp" x="178.3" y="780"/>
</g>
<g transform="translate(779,0)">
<line class="osdg" x1="179.7" y1="786" x2="253" y2="797.7"/><line class="osd" x1="179.7" y1="786" x2="253" y2="797.7"/>
<line class="odd" x1="179.7" y1="798.3" x2="253" y2="782.7"/>
<line class="ods" x1="101.7" y1="813" x2="179.7" y2="798.3"/>
<line class="osg" x1="101.7" y1="773.3" x2="179.7" y2="786"/><line class="oss" x1="101.7" y1="773.3" x2="179.7" y2="786"/>
<use href="#tb" x="101.7" y="824.7"/><use href="#tb" x="126" y="798.3"/><use href="#tb" x="144" y="799.3"/><use href="#tb" x="163" y="799.3"/><use href="#tb" x="178" y="806.7"/>
<use href="#tp" x="101.7" y="766"/><use href="#tp" x="106" y="773.3"/><use href="#tp" x="116" y="782.7"/><use href="#tp" x="125" y="761"/><use href="#tp" x="126" y="794.7"/><use href="#tp" x="144" y="785.3"/><use href="#tp" x="163" y="777.7"/><use href="#tp" x="178" y="786"/>
</g>

<g class="tv">
<text x="1326.7" y="731.7">37.2</text><text x="1366.7" y="731.7">39.6</text><text x="1407" y="731.7">2.4</text><text x="1447.8" y="731.7">50.4</text><text x="1488.8" y="731.7">43.7</text><text x="1530.3" y="731.7">-6.7</text>
<text x="1326.7" y="757.7">36.9</text><text x="1366.7" y="757.7">39.4</text><text x="1407" y="757.7">2.5</text><text x="1447.8" y="757.7">48.3</text><text x="1488.8" y="757.7">47.0</text><text x="1530.3" y="757.7">-1.2</text>
<text x="1326.7" y="783.7">37.1</text><text x="1366.7" y="783.7">39.5</text><text x="1407" y="783.7">2.4</text><text x="1447.8" y="783.7">49.3</text><text x="1488.8" y="783.7">45.3</text><text x="1530.3" y="783.7">-4.0</text>
<text x="1326.7" y="809.8">38.3</text><text x="1366.7" y="809.8">41.9</text><text x="1407" y="809.8">3.6</text><text x="1447.8" y="809.8">49.9</text><text x="1488.8" y="809.8">46.2</text><text x="1530.3" y="809.8">-3.7</text>
</g>
</svg>
</body></html>
